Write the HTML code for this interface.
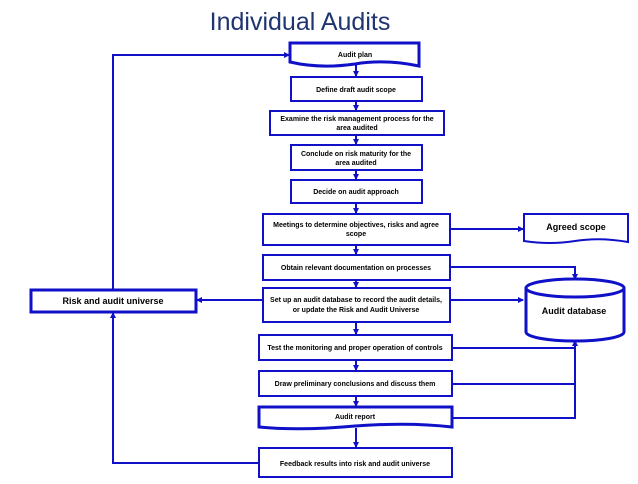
<!DOCTYPE html>
<html><head><style>
body{margin:0;background:#fff;}
svg text{font-family:"Liberation Sans",sans-serif;font-weight:bold;font-size:7px;fill:#000;}
</style></head><body>
<svg width="638" height="479" viewBox="0 0 638 479" xmlns="http://www.w3.org/2000/svg">
<defs><marker id="a" markerWidth="6" markerHeight="6" refX="5" refY="3" orient="auto" markerUnits="userSpaceOnUse"><path d="M0,0L6,3L0,6z" fill="#1010c8"/></marker></defs>
<text x="300" y="30" text-anchor="middle" style="font-size:25px;font-weight:normal;fill:#1f3570;font-family:'Liberation Sans',sans-serif">Individual Audits</text>
<g stroke="#1010c8" stroke-width="2" fill="none">
<!-- vertical connectors -->
<line x1="356" y1="65" x2="356" y2="76" marker-end="url(#a)"/>
<line x1="356" y1="101" x2="356" y2="110" marker-end="url(#a)"/>
<line x1="356" y1="135" x2="356" y2="144" marker-end="url(#a)"/>
<line x1="356" y1="170" x2="356" y2="179" marker-end="url(#a)"/>
<line x1="356" y1="203" x2="356" y2="213" marker-end="url(#a)"/>
<line x1="356" y1="245" x2="356" y2="254" marker-end="url(#a)"/>
<line x1="356" y1="280" x2="356" y2="287" marker-end="url(#a)"/>
<line x1="356" y1="322" x2="356" y2="334" marker-end="url(#a)"/>
<line x1="356" y1="360" x2="356" y2="370" marker-end="url(#a)"/>
<line x1="356" y1="396" x2="356" y2="406" marker-end="url(#a)"/>
<line x1="356" y1="428" x2="356" y2="447" marker-end="url(#a)"/>
<!-- loop -->
<polyline points="113,290 113,55 289,55" marker-end="url(#a)"/>
<polyline points="259,463 113,463 113,313" marker-end="url(#a)"/>
<line x1="263" y1="300" x2="197" y2="300" marker-end="url(#a)"/>
<line x1="450" y1="300" x2="523" y2="300" marker-end="url(#a)"/>
<line x1="450" y1="229" x2="523" y2="229" marker-end="url(#a)"/>
<polyline points="450,267 575,267 575,279" marker-end="url(#a)"/>
<polyline points="452,418 575,418 575,341" marker-end="url(#a)"/>
<line x1="452" y1="348" x2="575" y2="348"/>
<line x1="452" y1="384" x2="575" y2="384"/>
<!-- boxes -->
<path d="M290,43 H419 V66 Q385,59 355,64 Q320,69 290,62 Z" stroke-width="3" fill="#fff"/>
<rect x="291" y="77" width="131" height="24" fill="#fff"/>
<rect x="270" y="111" width="174" height="24" fill="#fff"/>
<rect x="291" y="145" width="131" height="25" fill="#fff"/>
<rect x="291" y="180" width="131" height="23" fill="#fff"/>
<rect x="263" y="214" width="187" height="31" fill="#fff"/>
<rect x="263" y="255" width="187" height="25" fill="#fff"/>
<rect x="263" y="288" width="187" height="34" fill="#fff"/>
<rect x="259" y="335" width="193" height="25" fill="#fff"/>
<rect x="259" y="371" width="193" height="25" fill="#fff"/>
<path d="M259,407 H452 V427 Q410,422 355,426 Q300,431 259,427 Z" stroke-width="3" fill="#fff"/>
<rect x="259" y="448" width="193" height="29" fill="#fff"/>
<path d="M524,214 H628 V242 Q600,237 575,241 Q550,245 524,241 Z" fill="#fff"/>
<rect x="31" y="290" width="165" height="22" stroke-width="3" fill="#fff"/>
<path d="M526,288 V332 A49,9 0 0 0 624,332 V288" stroke-width="3" fill="#fff"/>
<ellipse cx="575" cy="288" rx="49" ry="9" stroke-width="3" fill="#fff"/>
</g>
<g text-anchor="middle">
<text x="355" y="57">Audit plan</text>
<text x="356" y="92">Define draft audit scope</text>
<text x="357" y="121">Examine the risk management process for the</text>
<text x="357" y="130">area audited</text>
<text x="356" y="156">Conclude on risk maturity for the</text>
<text x="356" y="165">area audited</text>
<text x="356" y="194">Decide on audit approach</text>
<text x="356" y="227">Meetings to determine objectives, risks and agree</text>
<text x="356" y="236">scope</text>
<text x="356" y="270">Obtain relevant documentation on processes</text>
<text x="356" y="302">Set up an audit database to record the audit details,</text>
<text x="356" y="312">or update the Risk and Audit Universe</text>
<text x="355" y="350">Test the monitoring and proper operation of controls</text>
<text x="355" y="386">Draw preliminary conclusions and discuss them</text>
<text x="355" y="419">Audit report</text>
<text x="355" y="466">Feedback results into risk and audit universe</text>
<text x="576" y="230" style="font-size:9px">Agreed scope</text>
<text x="574" y="314" style="font-size:9px">Audit database</text>
<text x="113" y="304" style="font-size:9px">Risk and audit universe</text>
</g>
</svg>
</body></html>
